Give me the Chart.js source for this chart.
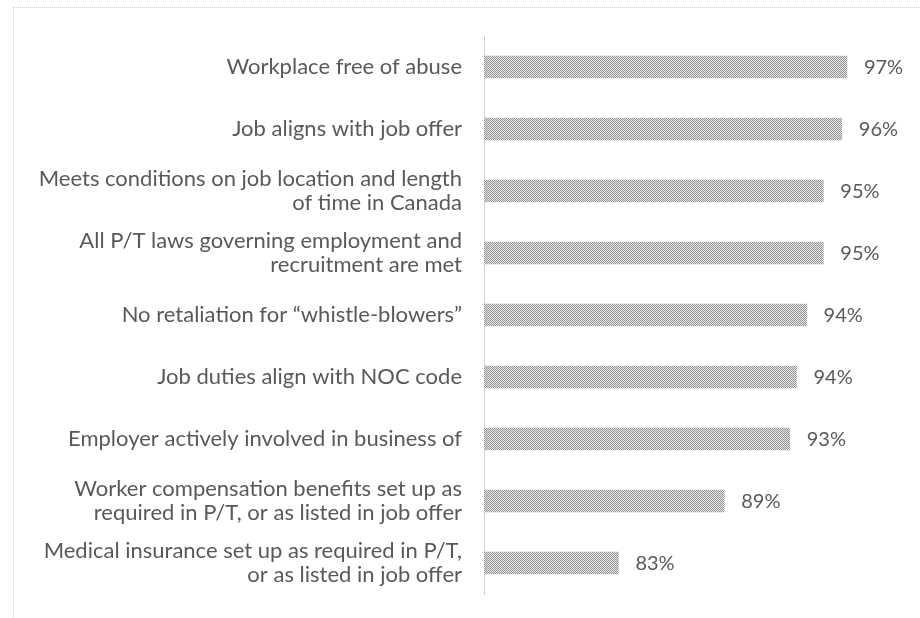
<!DOCTYPE html>
<html>
<head>
<meta charset="utf-8">
<script src="https://cdn.jsdelivr.net/npm/chart.js@4.4.1/dist/chart.umd.min.js"></script>
<style>
  html, body { margin: 0; padding: 0; background: #ffffff; }
  #wrap { position: relative; width: 920px; height: 618px; overflow: hidden; }
  #frame { position: absolute; left: 13px; top: 7px; width: 920px; height: 700px; border: 1px dotted #d0d0d0; box-sizing: border-box; }
  canvas { position: absolute; left: 0; top: 0; }
</style>
</head>
<body>
<div id="wrap">
  <div id="frame"></div>
  <canvas id="c" width="920" height="618"></canvas>
</div>
<script>
const categories = [
  "Workplace free of abuse",
  "Job aligns with job offer",
  ["Meets conditions on job location and length", "of time in Canada"],
  ["All P/T laws governing employment and", "recruitment are met"],
  "No retaliation for \u201cwhistle-blowers\u201d",
  "Job duties align with NOC code",
  "Employer actively involved in business of",
  ["Worker compensation benefits set up as", "required in P/T, or as listed in job offer"],
  ["Medical insurance set up as required in P/T,", "or as listed in job offer"]
];
const values = [96.6, 96.3, 95.2, 95.2, 94.2, 93.6, 93.2, 89.3, 83.0];
const axisMin = 75;
const axisMax = 100;

function makePattern() {
  const p = document.createElement('canvas');
  p.width = 2; p.height = 2;
  const g = p.getContext('2d');
  g.fillStyle = '#e8e8e8'; g.fillRect(0, 0, 2, 2);
  g.fillStyle = '#929292'; g.fillRect(0, 0, 1, 1); g.fillRect(1, 1, 1, 1);
  return document.getElementById('c').getContext('2d').createPattern(p, 'repeat');
}

const valueLabels = {
  id: 'valueLabels',
  afterDatasetsDraw(chart) {
    const ctx = chart.ctx;
    const meta = chart.getDatasetMeta(0);
    ctx.save();
    ctx.font = '20px Lato, "Open Sans", sans-serif';
    ctx.fillStyle = '#595959';
    ctx.textAlign = 'left';
    ctx.textBaseline = 'middle';
    meta.data.forEach((bar, i) => {
      const v = chart.data.datasets[0].data[i];
      ctx.fillText(Math.round(v) + '%', bar.x + 17, bar.y + 1);
    });
    ctx.restore();
  }
};

new Chart(document.getElementById('c'), {
  type: 'bar',
  data: {
    labels: categories,
    datasets: [{
      data: values,
      backgroundColor: makePattern(),
      borderWidth: 0,
      barThickness: 22
    }]
  },
  options: {
    indexAxis: 'y',
    responsive: false,
    animation: false,
    devicePixelRatio: 1,
    layout: { padding: { left: 0, right: 16, top: 36, bottom: 24 } },
    plugins: { legend: { display: false }, tooltip: { enabled: false } },
    scales: {
      x: { display: false, min: axisMin, max: axisMax },
      y: {
        grid: { display: false, drawTicks: false },
        border: { display: true, color: '#d0d0d0', dash: [1, 2] },
        ticks: {
          color: '#595959',
          padding: 22,
          font: { family: 'Lato, "Open Sans", sans-serif', size: 22, lineHeight: 1.12 }
        },
        afterFit(scale) { scale.width = 484; scale.paddingTop = 0; scale.paddingBottom = 0; }
      }
    }
  },
  plugins: [valueLabels]
});
</script>
</body>
</html>
